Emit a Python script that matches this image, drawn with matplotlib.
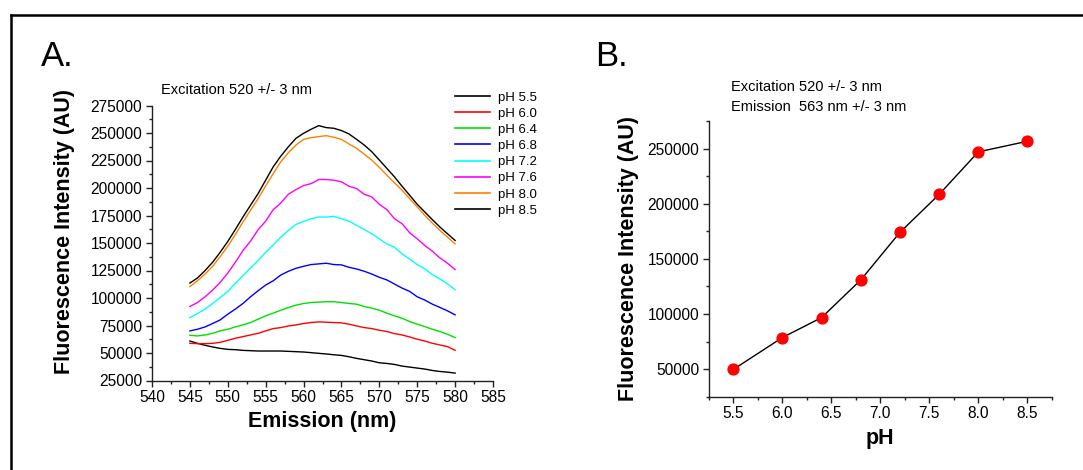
"""pH titration of the fluorescent reporter: emission spectra (A) and
emission intensity at 563 nm versus pH (B)."""

import matplotlib
matplotlib.use("Agg")
import matplotlib.pyplot as plt
from matplotlib.lines import Line2D
from matplotlib.ticker import MultipleLocator

plt.rcParams["font.family"] = ["Liberation Sans", "DejaVu Sans"]

OUT_PNG = "out.png"

# ---- panel A: emission spectra (excitation 520 nm) ----
WAVELENGTH = list(range(545, 581))

PH_LABELS = ["pH 5.5", "pH 6.0", "pH 6.4", "pH 6.8", "pH 7.2", "pH 7.6", "pH 8.0", "pH 8.5"]

SPEC_PH55 = [60900, 58800, 57000, 55500, 54200, 53300, 53000, 52400, 52100, 51800,
             51800, 51800, 51800, 51500, 51200, 50900, 50300, 49700, 49100, 48400,
             47800, 46600, 45100, 43900, 42700, 41100, 40500, 39600, 38100, 37200,
             36300, 35400, 34100, 33200, 32600, 31700]
SPEC_PH60 = [58800, 58500, 58500, 58800, 59700, 61500, 63400, 64900, 66400, 67900,
             70100, 72200, 73100, 74600, 75500, 76800, 77700, 78300, 78000, 77700,
             77400, 76200, 74600, 73100, 72200, 70700, 69500, 67600, 66400, 64600,
             62500, 60900, 58800, 57300, 55800, 52400]
SPEC_PH64 = [66100, 65500, 66400, 67900, 70100, 71600, 73700, 75500, 77700, 80700,
             83800, 86200, 88900, 91400, 93500, 95000, 95900, 96300, 96600, 96600,
             95900, 95000, 94400, 92300, 90800, 88900, 86200, 83800, 81600, 78600,
             76200, 74000, 71600, 69500, 67000, 64000]
SPEC_PH68 = [70100, 71600, 73700, 76800, 80100, 85300, 89900, 95000, 101100, 106600,
             111800, 115700, 120900, 124300, 127000, 128800, 130400, 131000, 131600, 130400,
             130100, 127900, 126400, 124300, 121800, 118800, 116400, 112700, 109000, 106000,
             101100, 98100, 94400, 91400, 88300, 84700]
SPEC_PH72 = [82200, 85900, 89900, 95000, 100500, 106000, 113300, 120300, 127300, 134000,
             141600, 148300, 155300, 161400, 166900, 169600, 172100, 173600, 173600, 174200,
             172100, 169900, 166000, 162300, 158400, 153800, 149200, 146200, 140100, 135500,
             130400, 126400, 121200, 117300, 112700, 107500]
SPEC_PH76 = [92300, 95900, 101100, 107200, 114200, 122700, 132500, 143100, 151700, 162000,
             169900, 180300, 186400, 194300, 198600, 202200, 204000, 207700, 207700, 207100,
             205600, 201600, 199500, 194300, 191900, 185200, 180300, 172100, 167500, 159300,
             153800, 147700, 142500, 136400, 131600, 125800]
SPEC_PH80 = [110300, 115700, 121800, 128800, 137700, 147100, 157800, 169000, 179700, 190300,
             201900, 213200, 223800, 232100, 239100, 244200, 245800, 246700, 247600, 246100,
             244200, 240000, 236000, 230800, 225400, 218700, 211700, 204700, 198000, 190300,
             182700, 175100, 168100, 161400, 155300, 149200]
SPEC_PH85 = [113600, 118200, 124900, 132500, 141600, 151400, 162300, 173600, 184300, 194900,
             207100, 219300, 229000, 237500, 245200, 249700, 253400, 256700, 254900, 254300,
             252200, 249100, 244200, 239100, 233000, 225400, 217800, 210100, 201600, 193400,
             185200, 178200, 171200, 164500, 158400, 152300]

SPECTRA = [SPEC_PH55, SPEC_PH60, SPEC_PH64, SPEC_PH68,
           SPEC_PH72, SPEC_PH76, SPEC_PH80, SPEC_PH85]
SPEC_COLORS = ["#000000", "#ff0000", "#00e000", "#0000ff",
               "#00ffff", "#ff00ff", "#ff8000", "#000000"]

# ---- panel B: intensity at 563 nm ----
PH = [5.5, 6.0, 6.4, 6.8, 7.2, 7.6, 8.0, 8.5]
INTENSITY_563 = [49700, 78600, 96700, 130800, 174000, 208400, 247000, 256600]

TICK_FS = 11.2
LABEL_FS = 15.5


def style_axes(ax):
    for side in ("top", "right"):
        ax.spines[side].set_visible(False)
    for side in ("left", "bottom"):
        ax.spines[side].set_linewidth(1.0)
        ax.spines[side].set_color("#222222")
    ax.tick_params(which="major", direction="out", length=4.5, width=1.0,
                   labelsize=TICK_FS, pad=2.5, color="#222222")
    ax.tick_params(which="minor", direction="out", length=2.5, width=1.0,
                   color="#222222")


def plot_spectra(fig):
    ax = fig.add_axes([152 / 1083, 1 - 380.5 / 470, 341 / 1083, 275 / 470])
    for spec, color in zip(SPECTRA, SPEC_COLORS):
        ax.plot(WAVELENGTH, spec, color=color, linewidth=1.0)
    ax.set_xlim(540, 585)
    ax.set_ylim(25000, 275000)
    ax.xaxis.set_major_locator(MultipleLocator(5))
    ax.xaxis.set_minor_locator(MultipleLocator(2.5))
    ax.yaxis.set_major_locator(MultipleLocator(25000))
    ax.yaxis.set_minor_locator(MultipleLocator(12500))
    style_axes(ax)
    ax.set_xlabel("Emission (nm)", fontsize=LABEL_FS, fontweight="bold", labelpad=4)
    ax.set_ylabel("Fluorescence Intensity (AU)", fontsize=LABEL_FS, fontweight="bold")
    ax.yaxis.set_label_coords(-0.226, 0.54)

    handles = [Line2D([], [], color=c, linewidth=1.2) for c in SPEC_COLORS]
    fig.legend(handles, PH_LABELS, loc="upper left",
               bbox_to_anchor=(450 / 1083, 1 - 86 / 470),
               bbox_transform=fig.transFigure, frameon=False,
               fontsize=9.5, handlelength=2.6, handletextpad=0.6,
               labelspacing=0.3, borderaxespad=0)
    fig.text(161 / 1083, 1 - 90 / 470, "Excitation 520 +/- 3 nm",
             fontsize=10.5, va="center", ha="left")
    return ax


def plot_titration(fig):
    ax = fig.add_axes([708.8 / 1083, 1 - 396.7 / 470, 343 / 1083, 275.7 / 470])
    ax.plot(PH, INTENSITY_563, color="black", linewidth=1.0, zorder=2)
    ax.plot(PH, INTENSITY_563, linestyle="none", marker="o", markersize=7.8,
            markerfacecolor="#ff0000", markeredgecolor="#ff0000", zorder=3)
    ax.set_xlim(5.25, 8.75)
    ax.set_ylim(25000, 275000)
    ax.xaxis.set_major_locator(MultipleLocator(0.5))
    ax.xaxis.set_minor_locator(MultipleLocator(0.25))
    ax.yaxis.set_major_locator(MultipleLocator(50000))
    ax.yaxis.set_minor_locator(MultipleLocator(25000))
    ax.set_xticks([5.5, 6.0, 6.5, 7.0, 7.5, 8.0, 8.5])
    ax.set_yticks([50000, 100000, 150000, 200000, 250000])
    style_axes(ax)
    ax.set_xlabel("pH", fontsize=LABEL_FS, fontweight="bold", labelpad=5)
    ax.set_ylabel("Fluorescence Intensity (AU)", fontsize=LABEL_FS, fontweight="bold")
    ax.yaxis.set_label_coords(-0.203, 0.5)
    fig.text(731 / 1083, 1 - 87 / 470, "Excitation 520 +/- 3 nm",
             fontsize=10.5, va="center", ha="left")
    fig.text(731 / 1083, 1 - 107 / 470, "Emission  563 nm +/- 3 nm",
             fontsize=10.5, va="center", ha="left")
    return ax


def main():
    fig = plt.figure(figsize=(10.83, 4.70), dpi=100)

    # border of the pasted figure (only top and left edges are visible)
    fig.add_artist(Line2D([11 / 1083, 1.0], [1 - 14.5 / 470, 1 - 14.5 / 470],
                          transform=fig.transFigure, color="black", linewidth=1.8))
    fig.add_artist(Line2D([11 / 1083, 11 / 1083], [0.0, 1 - 14.5 / 470],
                          transform=fig.transFigure, color="black", linewidth=1.8))

    plot_spectra(fig)
    plot_titration(fig)

    fig.text(41 / 1083, 1 - 57 / 470, "A.", fontsize=25, va="center", ha="left")
    fig.text(595 / 1083, 1 - 57 / 470, "B.", fontsize=25, va="center", ha="left")

    fig.savefig(OUT_PNG, dpi=100)
    plt.close(fig)


if __name__ == "__main__":
    main()
